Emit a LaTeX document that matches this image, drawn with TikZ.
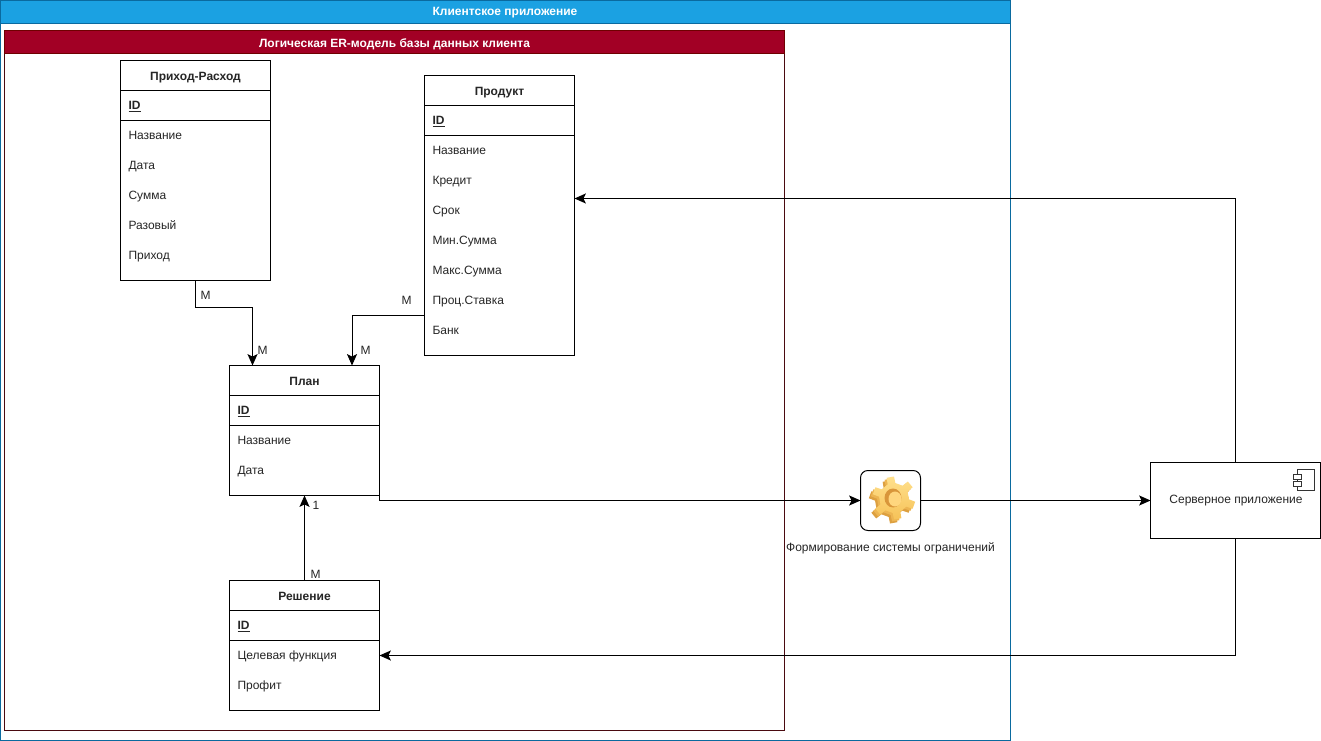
\documentclass[tikz,border=0pt]{standalone}
\usepackage{fontspec}
\setmainfont{Liberation Sans}
\usetikzlibrary{arrows.meta,calc}
\definecolor{bluehead}{HTML}{1BA1E2}
\definecolor{blueline}{HTML}{0A6A9F}
\definecolor{redhead}{HTML}{A20025}
\definecolor{redline}{HTML}{6F0000}
\definecolor{redframe}{HTML}{4A0A10}
\definecolor{gearside}{HTML}{DDA040}
\definecolor{gearmid}{HTML}{EDB552}
\definecolor{geartop}{HTML}{FFE08C}
\definecolor{gearlow}{HTML}{F6C258}
\definecolor{gearhole}{HTML}{D9963A}
\definecolor{gearin}{HTML}{FFD67E}
\tikzset{
  x=0.75pt,y=-0.75pt,
  every node/.style={font=\fontsize{9}{11}\selectfont,text=black!85,outer sep=0pt},
  box/.style={draw=black,line width=0.75pt,fill=white,inner sep=0pt},
  rowtxt/.style={anchor=west,inner sep=0pt,text height=7pt,text depth=2pt},
  titletxt/.style={inner sep=0pt,font=\fontsize{9}{11}\selectfont\bfseries,text height=7pt,text depth=2pt},
  headtxt/.style={inner sep=0pt,text=white,font=\fontsize{9}{11}\selectfont\bfseries},
  lbl/.style={inner sep=0pt},
  link/.style={draw=black,line width=0.75pt,-{Stealth[length=8.5pt,width=7.5pt,inset=1.8pt]}},
  plain/.style={draw=black,line width=0.75pt},
}
% name, left, top, height, title, rows
\newcommand{\entitybox}[6]{%
  \node[box,anchor=north west,minimum width=112.5pt,minimum height=#4*0.75pt] (#1) at (#2,#3) {};
  \draw[plain] (#2,#3+30) -- ++(150,0);
  \draw[plain] (#2,#3+60) -- ++(150,0);
  \node[titletxt] (#1title) at (#2+75,#3+16.5) {#5};
  \node[rowtxt,font=\fontsize{9}{11}\selectfont\bfseries] (#1id) at (#2+8,#3+46) {\underline{ID}};
  \foreach \r [count=\i] in {#6} {
    \node[rowtxt] (#1row\i) at (#2+8,#3+46+\i*30) {\r};
  }
}
\newcommand{\gearshape}{
  (-5:15)
  \foreach \a in {20,80,...,320} {
    -- ({\a-15}:15) -- ({\a-10}:21.5) -- ({\a+10}:21.5) -- ({\a+15}:15) -- ({\a+45}:15)
  } -- cycle
}
\begin{document}
\begin{tikzpicture}
\useasboundingbox (0,0) rectangle (1321,741);
% outer lane
\node[draw=blueline,line width=0.75pt,fill=white,anchor=north west,minimum width=757.5pt,minimum height=555pt,inner sep=0pt] (client) at (0.5,0.5) {};
\node[draw=blueline,line width=0.75pt,fill=bluehead,anchor=north west,minimum width=757.5pt,minimum height=17.25pt,inner sep=0pt] (clienthead) at (0.5,0.5) {};
\node[headtxt] (clienttitle) at (505,13) {Клиентское приложение};
% inner lane
\node[draw=redframe,line width=0.75pt,fill=white,anchor=north west,minimum width=585pt,minimum height=525pt,inner sep=0pt] (model) at (4.5,30.5) {};
\node[draw=redline,line width=0.75pt,fill=redhead,anchor=north west,minimum width=585pt,minimum height=17.25pt,inner sep=0pt] (modelhead) at (4.5,30.5) {};
\node[headtxt] (modeltitle) at (394.5,44) {Логическая ER-модель базы данных клиента};
% entities
\entitybox{income}{120.5}{60.5}{220}{Приход-Расход}{Название,Дата,Сумма,Разовый,Приход}
\entitybox{product}{424.5}{75.5}{280}{Продукт}{Название,Кредит,Срок,Мин.Сумма,Макс.Сумма,Проц.Ставка,Банк}
\entitybox{plan}{229.5}{365.5}{130}{План}{Название,Дата}
\entitybox{solution}{229.5}{580.5}{130}{Решение}{Целевая функция,Профит}
% gear
\node[draw=black,line width=0.75pt,fill=white,rounded corners=5.5pt,anchor=north west,minimum width=45pt,minimum height=45pt,inner sep=0pt] (gear) at (860.5,470.5) {};
\begin{scope}[shift={(890,502)}]
  \fill[gearside] \gearshape;
\end{scope}
\begin{scope}[shift={(892,500)}]
  \fill[gearmid] \gearshape;
\end{scope}
\begin{scope}[shift={(894,498)}]
  \shade[top color=geartop,bottom color=gearlow] \gearshape;
  \fill[gearhole] (-1,0) ellipse [x radius=8.5,y radius=9.5];
  \fill[gearin] (1,1) ellipse [x radius=6.5,y radius=7.5];
\end{scope}
\node[lbl] (gearlabel) at (890.5,548.5) {Формирование системы ограничений};
% server
\node[box,anchor=north west,minimum width=127.5pt,minimum height=57pt] (server) at (1150.5,462.5) {};
\node[lbl] (servertext) at (1236,501) {Серверное приложение};
\node[draw=black!80,line width=0.75pt,fill=white,anchor=north west,minimum width=12.75pt,minimum height=15.5pt,inner sep=0pt] (compbody) at (1297.5,469.5) {};
\node[draw=black!80,line width=0.75pt,fill=white,anchor=north west,minimum width=6pt,minimum height=3.4pt,inner sep=0pt] (comptab1) at (1293.5,474.5) {};
\node[draw=black!80,line width=0.75pt,fill=white,anchor=north west,minimum width=6pt,minimum height=3.4pt,inner sep=0pt] (comptab2) at (1293.5,481.5) {};
% connector end points
\coordinate (a1) at (195.5,280.5);
\coordinate (a2) at (195.5,307.5);
\coordinate (a3) at (252.5,307.5);
\coordinate (a4) at (252.5,365.5);
\coordinate (b1) at (424.5,300);
\coordinate (b2) at (424.5,315.5);
\coordinate (b3) at (352,315.5);
\coordinate (b4) at (352,365.5);
\coordinate (c1) at (379.5,470);
\coordinate (c2) at (379.5,500.5);
\coordinate (d1) at (304.5,580.5);
\coordinate (d2) at (304.5,495.5);
\coordinate (e1) at (920.5,500.5);
\coordinate (e2) at (1150.5,500.5);
\coordinate (e3) at (860.5,500.5);
\coordinate (f1) at (1235.5,462.5);
\coordinate (f2) at (1235.5,198.5);
\coordinate (f3) at (574.5,198.5);
\coordinate (g1) at (1235.5,538.5);
\coordinate (g2) at (1235.5,655.5);
\coordinate (g3) at (379.5,655.5);
% connectors
\draw[link] (a1) -- (a2) -- (a3) -- (a4);
\draw[link] (b1) -- (b2) -- (b3) -- (b4);
\draw[link] (c1) -- (c2) -- (e3);
\draw[link] (d1) -- (d2);
\draw[link] (e1) -- (e2);
\draw[link] (f1) -- (f2) -- (f3);
\draw[link] (g1) -- (g2) -- (g3);
% labels
\node[lbl] (m1) at (205.5,295) {M};
\node[lbl] (m2) at (262.5,350) {M};
\node[lbl] (m3) at (406.5,300) {M};
\node[lbl] (m4) at (365.5,350) {M};
\node[lbl] (one) at (316,505) {1};
\node[lbl] (m5) at (315.5,574.5) {M};
\end{tikzpicture}
\end{document}
